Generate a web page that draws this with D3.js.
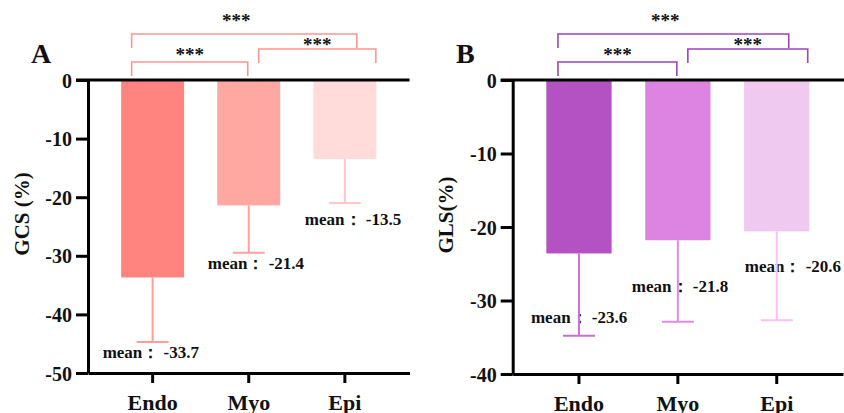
<!DOCTYPE html>
<html>
<head>
<meta charset="utf-8">
<script src="https://cdn.jsdelivr.net/npm/d3@7"></script>
<style>
    body { margin: 0; background: #fff; }
    svg text { font-family: "Liberation Serif", "Times New Roman", serif; font-weight: bold; fill: #111; }
</style>
</head>
<body>
<svg id="chart" width="844" height="413"></svg>
<script>
(function () {

    // data
    var categories = ["Endo", "Myo", "Epi"];

    var gcsMean = [-33.7, -21.4, -13.5];
    var gcsSd = [11.0, 8.1, 7.5];
    var gcsTicks = [0, -10, -20, -30, -40, -50];

    var glsMean = [-23.6, -21.8, -20.6];
    var glsSd = [11.2, 11.1, 12.1];
    var glsTicks = [0, -10, -20, -30, -40];

    var comparisons = [["Endo", "Myo"], ["Myo", "Epi"], ["Endo", "Epi"]];
    var sigLabels = ["***", "***", "***"];

    var svg = d3.select("#chart");

    // plain hyphen instead of d3's unicode minus, like the original figure
    var plain = function (d) { return String(d); };
    var oneDec = function (d) { return d.toFixed(1); };

    // one panel = one bar chart with brackets on top
    var Panel = function (opt) {
        this.opt = opt;
        this.g = svg.append("g").attr("class", "panel");

        this.x = d3.scaleBand()
            .domain(categories)
            .range([opt.left, opt.right])
            .padding(opt.pad);

        this.y = d3.scaleLinear()
            .domain([opt.ticks[opt.ticks.length - 1], 0])
            .range([opt.bottom, opt.top]);

        this.drawBars();
        this.drawAxes();
        this.drawLabels();
        this.drawErrors();
        this.drawBrackets();
    };

    Panel.prototype.drawBars = function () {
        var x = this.x, y = this.y, opt = this.opt;
        this.g.selectAll("rect.bar")
            .data(opt.mean).enter().append("rect")
            .attr("class", "bar")
            .attr("x", function (d, i) { return x(categories[i]); })
            .attr("y", y(0))
            .attr("width", x.bandwidth())
            .attr("height", function (d) { return y(d) - y(0); })
            .attr("fill", function (d, i) { return opt.colors[i]; });
    };

    Panel.prototype.drawAxes = function () {
        var x = this.x, y = this.y, opt = this.opt;

        var ya = this.g.append("g")
            .attr("transform", "translate(" + opt.left + ",0)")
            .call(d3.axisLeft(y).tickValues(opt.ticks).tickFormat(plain)
                .tickSize(12).tickPadding(4).tickSizeOuter(0));
        ya.selectAll("text").style("font-size", "20px").attr("dy", "0.35em");

        var xa = this.g.append("g")
            .attr("transform", "translate(0," + opt.bottom + ")")
            .call(d3.axisBottom(x).tickSize(10).tickPadding(11).tickSizeOuter(0));
        xa.selectAll("text").style("font-size", "22px");

        this.g.selectAll(".domain, .tick line")
            .attr("stroke", "#000")
            .attr("stroke-width", 3);
        this.g.selectAll(".tick text").attr("fill", "#111");

        // zero line across the panel
        this.g.append("line")
            .attr("x1", opt.left - 12).attr("x2", opt.zeroEnd)
            .attr("y1", y(0)).attr("y2", y(0))
            .attr("stroke", "#000").attr("stroke-width", 3);

        // axis title
        this.g.append("text")
            .attr("transform", "translate(" + opt.titleX + "," + opt.titleY + ") rotate(-90)")
            .attr("text-anchor", "middle")
            .attr("dy", "0.35em")
            .style("font-size", "21px")
            .text(opt.title);

        // panel letter
        this.g.append("text")
            .attr("x", opt.letterX).attr("y", 63)
            .style("font-size", "28px")
            .text(opt.letter);
    };

    Panel.prototype.drawLabels = function () {
        var x = this.x, y = this.y, opt = this.opt;
        this.g.selectAll("text.mean")
            .data(opt.mean).enter().append("text")
            .attr("class", "mean")
            .attr("x", function (d, i) { return x(categories[i]) + x.bandwidth() / 2 + opt.labelOff[i][0]; })
            .attr("y", function (d, i) { return y(d - opt.sd[i]) + opt.labelOff[i][1]; })
            .style("font-size", "17px")
            .text(function (d) { return "mean： " + oneDec(d); });
    };

    Panel.prototype.drawErrors = function () {
        var x = this.x, y = this.y, opt = this.opt, cap = 16;
        var g = this.g.append("g").attr("class", "errors");
        opt.mean.forEach(function (m, i) {
            var cx = x(categories[i]) + x.bandwidth() / 2, lo = y(m - opt.sd[i]);
            g.append("line")
                .attr("x1", cx).attr("x2", cx)
                .attr("y1", y(m)).attr("y2", lo)
                .attr("stroke", opt.errColors[i]).attr("stroke-width", 2);
            g.append("line")
                .attr("x1", cx - cap).attr("x2", cx + cap)
                .attr("y1", lo).attr("y2", lo)
                .attr("stroke", opt.errColors[i]).attr("stroke-width", 2);
        });
    };

    Panel.prototype.drawBrackets = function () {
        var x = this.x, y = this.y, opt = this.opt;
        var g = this.g.append("g").attr("class", "brackets");
        var centre = function (c) { return x(c) + x.bandwidth() / 2; };

        // layout of each bracket: end offsets, height above zero, star placement
        var ends = [[-21, -1], [10, 31], [-21, 12]];
        var rise = [18, 31, 46];
        var starNudge = [0, 0, -8];
        var starLift = [1.5, -1.5, 7.5];

        comparisons.forEach(function (pair, i) {
            var x1 = centre(pair[0]) + ends[i][0],
                x2 = centre(pair[1]) + ends[i][1],
                top = y(0) - rise[i];
            g.append("path")
                .attr("d", "M" + x1 + "," + (top + 14) + "V" + top + "H" + x2 + "V" + (top + 14))
                .attr("fill", "none")
                .attr("stroke", opt.bracketColor)
                .attr("stroke-width", 1.6);
            g.append("text")
                .attr("x", (x1 + x2) / 2 + starNudge[i])
                .attr("y", top - starLift[i])
                .attr("text-anchor", "middle")
                .style("font-size", "19px")
                .style("font-weight", "bold")
                .text(sigLabels[i]);
        });
    };

    new Panel({
        letter: "A", letterX: 31, title: "GCS (%)", titleX: 22, titleY: 214,
        left: 88, right: 409.5, top: 80, bottom: 373, pad: 0.345, zeroEnd: 409.5,
        ticks: gcsTicks, mean: gcsMean, sd: gcsSd,
        colors: ["#ff847f", "#ffa7a1", "#ffdcda"],
        errColors: ["#ff9f9a", "#ffa29d", "#ffc8c5"],
        bracketColor: "#ff9590",
        labelOff: [[-50, 16], [-41, 16], [-40, 22]]
    });

    new Panel({
        letter: "B", letterX: 456, title: "GLS(%)", titleX: 446, titleY: 215,
        left: 512.7, right: 843, top: 80, bottom: 374, pad: 0.34, zeroEnd: 844,
        ticks: glsTicks, mean: glsMean, sd: glsSd,
        colors: ["#b452c4", "#dd84e2", "#f0c9f0"],
        errColors: ["#cf6dd7", "#e288e7", "#f7c0f7"],
        bracketColor: "#9c46b6",
        labelOff: [[-48, -13], [-46, -30], [-32, -48]]
    });

})();
</script>
</body>
</html>
